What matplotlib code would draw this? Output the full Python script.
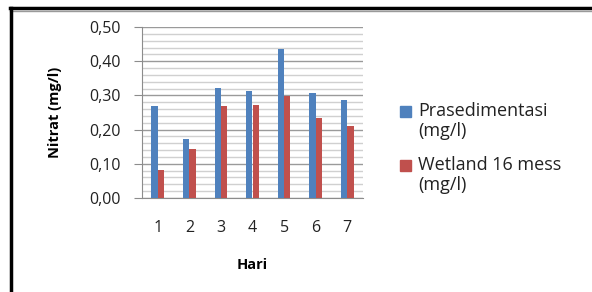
import matplotlib
matplotlib.use("Agg")
import matplotlib.pyplot as plt
import numpy as np
from matplotlib.lines import Line2D
from matplotlib.patches import Rectangle
from matplotlib.ticker import MultipleLocator, FuncFormatter

days = ["1", "2", "3", "4", "5", "6", "7"]
prasedimentasi = [0.269, 0.173, 0.322, 0.314, 0.437, 0.307, 0.287]
wetland = [0.081, 0.143, 0.269, 0.272, 0.298, 0.234, 0.211]
series_names = ["Prasedimentasi\n(mg/l)", "Wetland 16 mess\n(mg/l)"]

blue = "#4F81BD"
red = "#C0504D"
W, H = 592, 292

plt.rcParams["font.family"] = ["Open Sans", "DejaVu Sans"]

fig = plt.figure(figsize=(W / 100, H / 100), dpi=100)
ax = fig.add_axes([142 / W, 1 - 198 / H, (363 - 142) / W, (198 - 27) / H])

x = np.arange(len(days))
w = 0.2
ax.bar(x - w / 2, prasedimentasi, w, color=blue, zorder=3)
ax.bar(x + w / 2, wetland, w, color=red, zorder=3)

ax.set_xlim(-0.5, len(days) - 0.5)
ax.set_ylim(0, 0.5)
ax.yaxis.set_major_locator(MultipleLocator(0.1))
ax.yaxis.set_minor_locator(MultipleLocator(0.02))
ax.yaxis.set_major_formatter(FuncFormatter(lambda v, p: f"{v:.2f}".replace(".", ",")))
ax.grid(axis="y", which="major", color="#9a9a9a", lw=1, zorder=0)
ax.grid(axis="y", which="minor", color="#d0d0d0", lw=1, zorder=0)
ax.set_xticks(x)
ax.set_xticklabels(days)

for s in ["top", "right"]:
    ax.spines[s].set_visible(False)
ax.spines["left"].set_color("#8c8c8c")
ax.spines["bottom"].set_color("#8c8c8c")
ax.tick_params(axis="y", which="major", length=6, color="#8c8c8c", labelsize=11.5, pad=9, labelcolor="#222222")
ax.tick_params(axis="y", which="minor", length=0)
ax.tick_params(axis="x", length=0, labelsize=11.5, pad=16, labelcolor="#222222")

ax.set_ylabel("Nitrat (mg/l)", fontsize=10.5, fontweight="bold", labelpad=20)
ax.set_xlabel("Hari", fontsize=10.5, fontweight="bold", labelpad=16)

# legend: square next to the first line of each entry
for i, (name, col) in enumerate(zip(series_names, [blue, red])):
    y_top = 106 + i * 54
    fig.add_artist(Rectangle((400 / W, 1 - (y_top + 11) / H), 11 / W, 11 / H,
                             color=col, transform=fig.transFigure))
    fig.text(418 / W, 1 - (y_top - 4) / H, name, fontsize=13, va="top", ha="left",
             color="#222222", linespacing=1.15)

# outer frame, cropped on the right and bottom
fig.add_artist(Line2D([10 / W, 1], [1 - 8 / H] * 2, color="black", lw=2.5, transform=fig.transFigure))
fig.add_artist(Line2D([10 / W, 1], [1 - 10.5 / H] * 2, color="#9a9a9a", lw=1, transform=fig.transFigure))
fig.add_artist(Line2D([11 / W] * 2, [0, 1 - 8 / H], color="black", lw=2.5, transform=fig.transFigure))

fig.savefig("out.png", dpi=100)
